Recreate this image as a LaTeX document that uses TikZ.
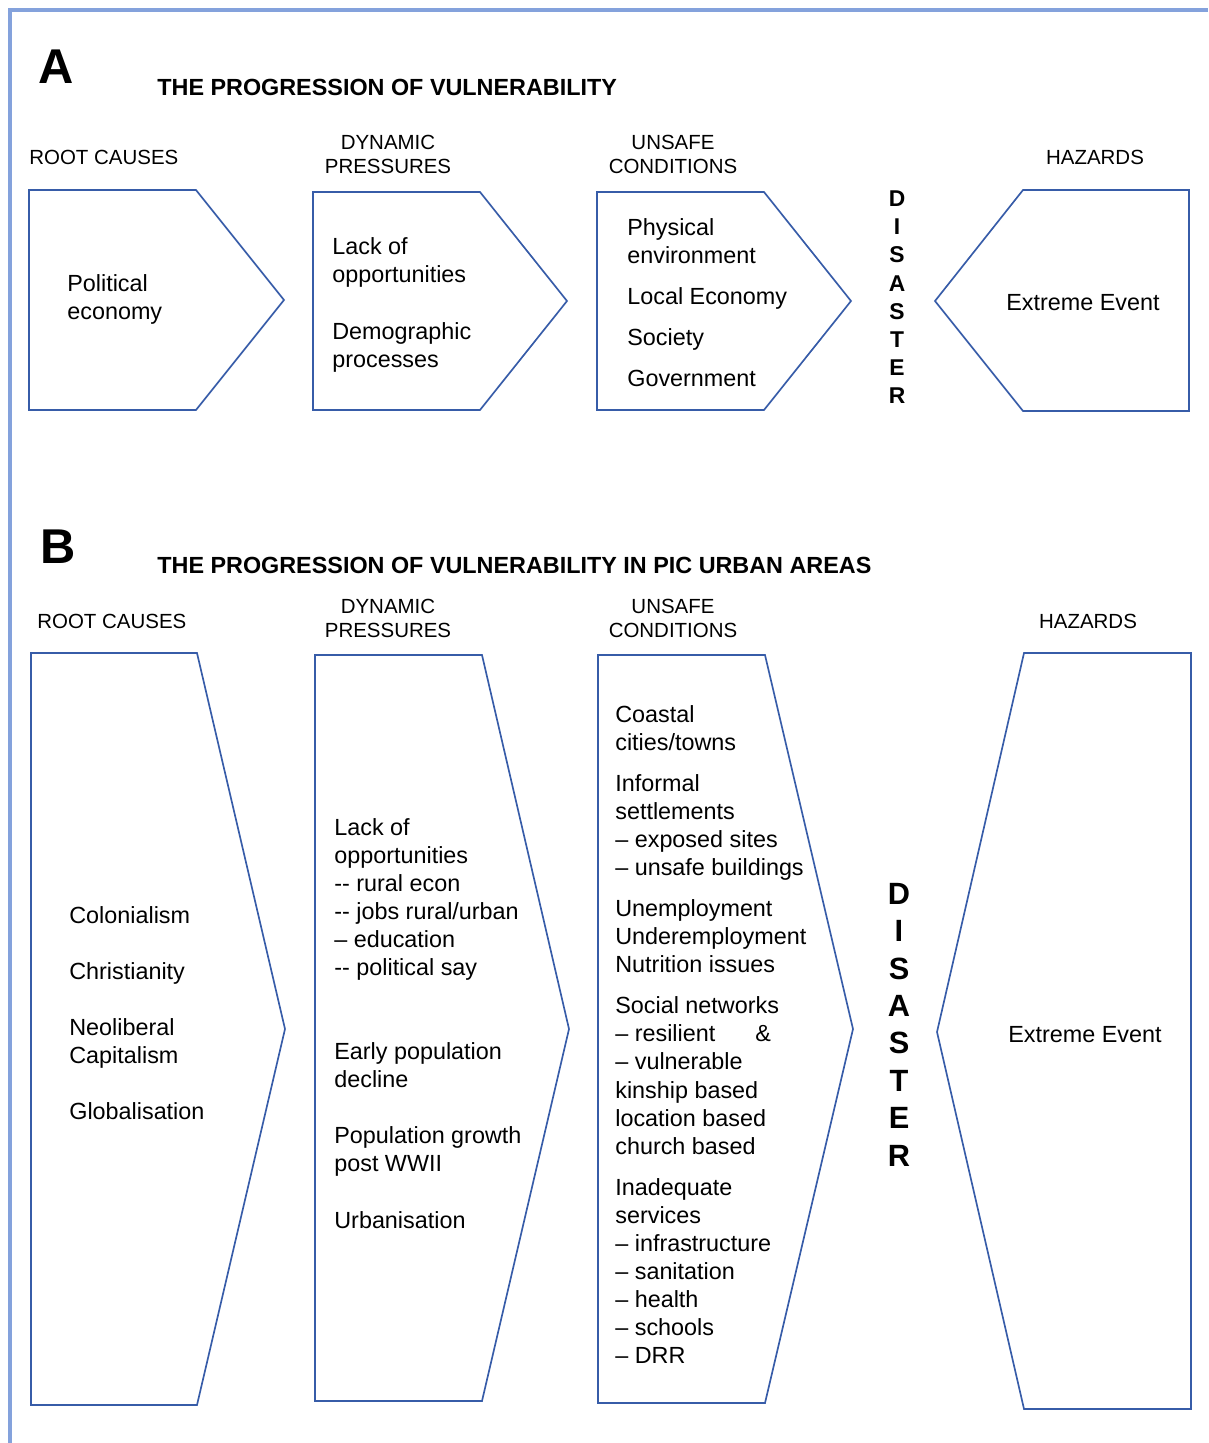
\documentclass[tikz,border=0pt]{standalone}
\usepackage{fontspec}
\setmainfont{Liberation Sans}
\tikzset{>=latex}
\usetikzlibrary{positioning}
\definecolor{shapeblue}{RGB}{55,92,168}
\definecolor{frameblue}{RGB}{132,162,220}

\begin{document}
\begin{tikzpicture}[x=0.02cm, y=-0.02cm,
    chev/.style={draw=shapeblue, line width=0.95pt, line join=miter},
    body/.style={inner sep=0pt, anchor=north west, align=left, font=\fontsize{13.3}{15.98}\selectfont},
    head/.style={inner sep=0pt, anchor=north, align=center, font=\fontsize{11.65}{13.7}\selectfont},
    ttl/.style={inner sep=0pt, anchor=north west, font=\fontsize{13.3}{16}\selectfont\bfseries},
    panel/.style={inner sep=0pt, anchor=north west, font=\fontsize{27.8}{32}\selectfont\bfseries},
    vert/.style={inner sep=0pt, anchor=north, align=center}]
      \useasboundingbox (0,0) rectangle (1208,1443);
      \draw[frameblue, line width=2pt] (10,1443) -- (10,10) -- (1208,10);
      % A
      \node[panel] (pA) at (38,50) {A};
      \node[ttl] (tA) at (157,78.8) {THE PROGRESSION OF VULNERABILITY};
      \node[head, anchor=north west] (rootA) at (29,149.7) {ROOT CAUSES};
      \node[head] (dynA) at (388,134.7) {DYNAMIC\\PRESSURES};
      \node[head] (unsA) at (673,134.7) {UNSAFE\\CONDITIONS};
      \node[head] (hazA) at (1095,149.7) {HAZARDS};
      \draw[chev] (29,190) -- (196,190) -- (284,300) -- (196,410) -- (29,410) -- cycle;
      \draw[chev] (313,192) -- (480,192) -- (567,301) -- (480,410) -- (313,410) -- cycle;
      \draw[chev] (597,192) -- (764,192) -- (851,301) -- (764,410) -- (597,410) -- cycle;
      \draw[chev] (1189,190) -- (1023,190) -- (935,301) -- (1023,411) -- (1189,411) -- cycle;
      \node[body] (polA) at (67,273.8) {Political\\economy};
      \node[body] (lackA) at (332,236.8) {Lack of\\opportunities\\[16.5pt]Demographic\\processes};
      \node[body] (physA) at (627,217.8) {Physical\\environment\\[7.4pt]Local Economy\\[7.4pt]Society\\[7.4pt]Government};
      \node[vert, font=\fontsize{13}{16.02}\selectfont\bfseries] (disA) at (897,190.5) {D\\I\\S\\A\\S\\T\\E\\R};
      \node[inner sep=0pt, font=\fontsize{13.3}{15.93}\selectfont] (extA) at (1083,302.5) {Extreme Event};
      % B
      \node[panel] (pB) at (40,530) {B};
      \node[ttl] (tB) at (157,556.8) {THE PROGRESSION OF VULNERABILITY IN PIC URBAN AREAS};
      \node[head, anchor=north west] (rootB) at (37,613.7) {ROOT CAUSES};
      \node[head] (dynB) at (388,598.7) {DYNAMIC\\PRESSURES};
      \node[head] (unsB) at (673,598.7) {UNSAFE\\CONDITIONS};
      \node[head] (hazB) at (1088,613.7) {HAZARDS};
      \draw[chev] (31,653) -- (197,653) -- (285,1029) -- (197,1405) -- (31,1405) -- cycle;
      \draw[chev] (315,655) -- (482,655) -- (569,1029) -- (482,1401) -- (315,1401) -- cycle;
      \draw[chev] (598,655) -- (765,655) -- (853,1029) -- (765,1403) -- (598,1403) -- cycle;
      \draw[chev] (1191,653) -- (1024,653) -- (937,1032) -- (1024,1409) -- (1191,1409) -- cycle;
      \node[body] (colB) at (69,905.8) {Colonialism\\[16pt]Christianity\\[16pt]Neoliberal\\Capitalism\\[16pt]Globalisation};
      \node[body] (lackB) at (334,817.8) {Lack of\\opportunities\\-{}- rural econ\\-{}- jobs rural/urban\\– education\\-{}- political say\\[31.9pt]Early population\\decline\\[16pt]Population growth\\post WWII\\[16pt]Urbanisation};
      \node[body] (coastB) at (615,704.8) {Coastal\\cities/towns\\[7.4pt]Informal\\settlements\\– exposed sites\\– unsafe buildings\\[7.4pt]Unemployment\\Underemployment\\Nutrition issues\\[7.4pt]Social networks\\– resilient\hspace{22.8pt}\&\\– vulnerable\\kinship based\\location based\\church based\\[7.4pt]Inadequate\\services\\– infrastructure\\– sanitation\\– health\\– schools\\– DRR};
      \node[vert, font=\fontsize{17.5}{21.34}\selectfont\bfseries] (disB) at (899,882.5) {D\\I\\S\\A\\S\\T\\E\\R};
      \node[inner sep=0pt, font=\fontsize{13.3}{15.93}\selectfont] (extB) at (1085,1034.5) {Extreme Event};
\end{tikzpicture}
\end{document}
